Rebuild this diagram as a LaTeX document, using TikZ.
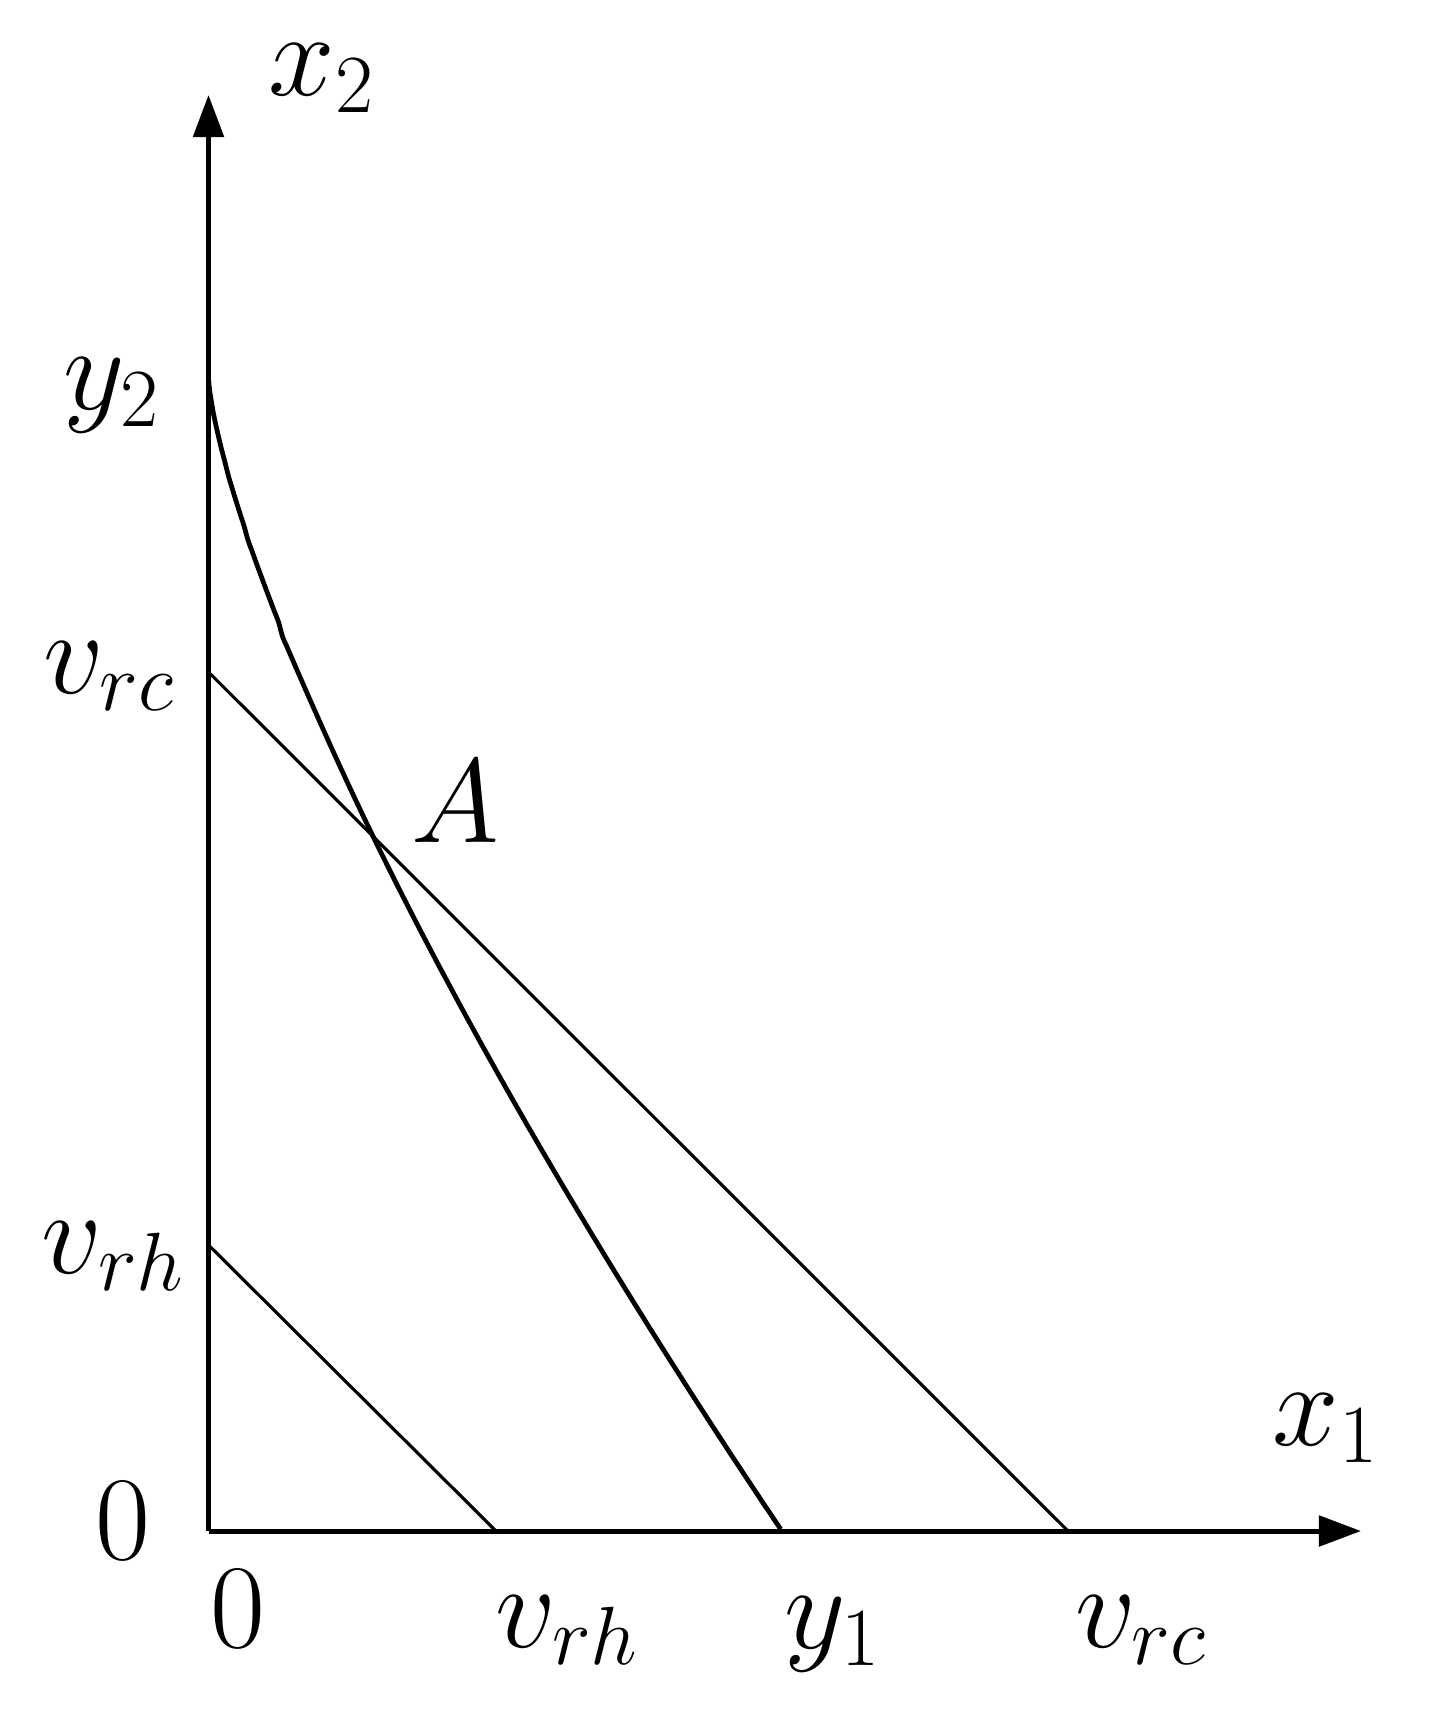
\documentclass[tikz,border=0pt]{standalone}
\usepackage{fix-cm}
\usepackage{tikz}
\usetikzlibrary{arrows.meta}
\DeclareMathSizes{34}{34}{23.5}{17}
\tikzset{
  ivaxis/.style={draw, line width=1.42pt, line join=miter,
    -{Triangle[length=12pt, width=8.6pt]}},
  ivline/.style={draw, line width=0.9pt},
  ivcurve/.style={draw, line width=1.35pt},
  ivlabel/.style={inner sep=0pt, anchor=base},
}

\begin{document}
\begin{tikzpicture}[x=0.01cm, y=-0.01cm,
  font=\fontsize{34}{40}\selectfont]

\useasboundingbox (0, 0) rectangle (1432, 1721);

% Axes.
\coordinate (O) at (208.5, 1531);
\coordinate (xend) at (1361, 1531);
\coordinate (yend) at (208.5, 95);
\draw[ivaxis] (O) -- (xend);
\draw[ivaxis] (O) -- (yend);

% Intercepts.
\coordinate (vrhx) at (496, 1531);
\coordinate (vrhy) at (208.5, 1245);
\coordinate (vrcx) at (1068, 1531);
\coordinate (vrcy) at (208.5, 672);
\coordinate (yonex) at (782, 1531);
\coordinate (ytwoy) at (208.5, 379);

% The two straight lines and the curve.
\draw[ivline] (vrhy) -- (vrhx);
\draw[ivline] (vrcy) -- (vrcx);
\draw[ivcurve] (ytwoy) -- plot[domain=0.002:1, samples=150, smooth]
  ({208.5+573.5*\x}, {1531-1152*(1-(\x)^0.74)});

% Labels.
\node[ivlabel] (lxtwo) at (322, 95) {$x_2$};
\node[ivlabel] (lxone) at (1326, 1445) {$x_1$};
\node[ivlabel] (lytwo) at (112, 409) {$y_2$};
\node[ivlabel] (lvrcl) at (109, 693) {$v_{rc}$};
\node[ivlabel] (lvrhl) at (113.5, 1273) {$v_{rh}$};
\node[ivlabel] (lzerol) at (123, 1559) {$0$};
\node[ivlabel] (lA) at (455, 842) {$A$};
\node[ivlabel] (lzerob) at (238, 1647) {$0$};
\node[ivlabel] (lvrhb) at (567.5, 1647) {$v_{rh}$};
\node[ivlabel] (lyone) at (833, 1648) {$y_1$};
\node[ivlabel] (lvrcb) at (1141, 1647) {$v_{rc}$};

\end{tikzpicture}
\end{document}
